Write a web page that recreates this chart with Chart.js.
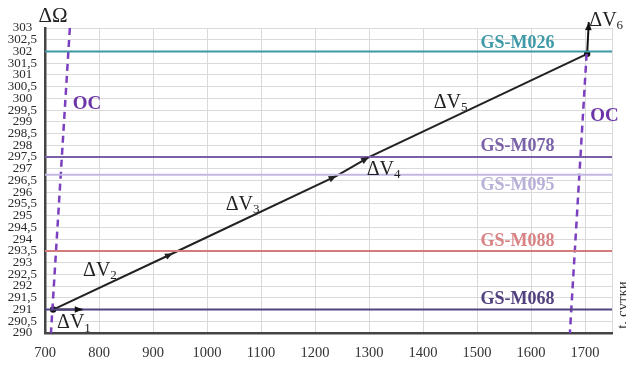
<!DOCTYPE html>
<html>
<head>
<meta charset="utf-8">
<script src="https://cdn.jsdelivr.net/npm/chart.js@4/dist/chart.umd.min.js"></script>
<style>
  html, body { margin: 0; padding: 0; background: #ffffff; }
  canvas { display: block; }
</style>
</head>
<body>
<canvas id="c" width="626" height="366"></canvas>
<script>
// Axis ranges (time in days, ΔΩ in degrees)
const xMin = 700, xMax = 1750;
const xTickValues = [700, 800, 900, 1000, 1100, 1200, 1300, 1400, 1500, 1600, 1700];
const yMin = 290, yMax = 303, yStep = 0.5;

// Transfer trajectory: start point, manoeuvre points, end point
const trackX = [715, 937, 1240, 1300, 1704];
const trackY = [291, 293.4, 296.7, 297.5, 301.9];

// First and last impulses
const dv1X = [715, 770];
const dv1Y = [291, 291];
const dv6X = [1704, 1707];
const dv6Y = [301.9, 303.25];

// Station slots (ΔΩ level of each target)
const stationNames  = ['GS-M026', 'GS-M078', 'GS-M095', 'GS-M088', 'GS-M068'];
const stationLevels = [302, 297.5, 296.75, 293.5, 291];
const stationColors = ['#3c98a6', '#7a5fa8', '#c2b8e2', '#d67b7c', '#51427f'];
const stationText   = ['#3f9aa8', '#7a62a8', '#b9b0d8', '#d98283', '#51417f'];

// Drift boundaries (OC)
const ocLeftX  = [746, 711];
const ocLeftY  = [303, 290];
const ocRightX = [1703, 1672];
const ocRightY = [301.9, 290];

const serif = '"Liberation Serif", "Times New Roman", serif';
const ocColor = '#7b3fc0';

const pts = (xs, ys) => xs.map((v, i) => ({ x: v, y: ys[i] }));

const datasets = [];

// horizontal station lines
stationLevels.forEach((lvl, i) => {
  datasets.push({
    data: pts([xMin, xMax], [lvl, lvl]),
    borderColor: stationColors[i],
    borderWidth: 2,
    pointRadius: 0,
    showLine: true
  });
});

// OC dashed boundaries
[[ocLeftX, ocLeftY], [ocRightX, ocRightY]].forEach(([xs, ys]) => {
  datasets.push({
    data: pts(xs, ys),
    borderColor: ocColor,
    borderWidth: 2.5,
    borderDash: [7, 5],
    pointRadius: 0,
    showLine: true,
    clip: false
  });
});

// trajectory
datasets.push({
  data: pts(trackX, trackY),
  borderColor: '#222222',
  borderWidth: 2,
  pointRadius: trackX.map((_, i) => (i === 0 || i === trackX.length - 1) ? 3.2 : 0),
  pointBackgroundColor: '#111111',
  pointBorderWidth: 0,
  showLine: true,
  arrowHeads: [1, 2, 3]
});

// ΔV1 and ΔV6 impulses
datasets.push({
  data: pts(dv1X, dv1Y),
  borderColor: '#111111', borderWidth: 2, pointRadius: 0, showLine: true,
  arrowHeads: [1], clip: false
});
datasets.push({
  data: pts(dv6X, dv6Y),
  borderColor: '#111111', borderWidth: 2, pointRadius: 0, showLine: true,
  arrowHeads: [1], clip: false
});

// Text marks, placed in data coordinates
const textMarks = [
  { text: 'ΔΩ', x: 714.8, y: 303.5, font: '21px ' + serif, color: '#222' },
  { text: 'OC', x: 777.7, y: 299.74, font: 'bold 19px ' + serif, color: '#6b35a8' },
  { text: 'OC', x: 1735.9, y: 299.23, font: 'bold 19px ' + serif, color: '#6b35a8' },
  { text: 'ΔV', sub: '1', x: 753.6, y: 290.42, font: '20px ' + serif, color: '#222' },
  { text: 'ΔV', sub: '2', x: 801.7, y: 292.66, font: '20px ' + serif, color: '#222' },
  { text: 'ΔV', sub: '3', x: 1066, y: 295.48, font: '20px ' + serif, color: '#222' },
  { text: 'ΔV', sub: '4', x: 1327, y: 296.97, font: '20px ' + serif, color: '#222' },
  { text: 'ΔV', sub: '5', x: 1451, y: 299.82, font: '20px ' + serif, color: '#222' },
  { text: 'ΔV', sub: '6', x: 1708, y: 303.32, font: '20px ' + serif, color: '#222', align: 'left' }
];
const stationLabelX = 1575;
const stationLabelY = [302.34, 297.95, 296.28, 293.9, 291.45];

const arrowPlugin = {
  id: 'arrowHeads',
  afterDatasetsDraw(chart) {
    const ctx = chart.ctx;
    ctx.save();
    chart.data.datasets.forEach((ds, di) => {
      if (!ds.arrowHeads) return;
      const meta = chart.getDatasetMeta(di);
      ds.arrowHeads.forEach(k => {
        const p = meta.data[k], q = meta.data[k - 1];
        const a = Math.atan2(p.y - q.y, p.x - q.x);
        const len = 8, hw = 3.3;
        ctx.fillStyle = ds.borderColor;
        ctx.beginPath();
        ctx.moveTo(p.x, p.y);
        ctx.lineTo(p.x - len * Math.cos(a) + hw * Math.sin(a), p.y - len * Math.sin(a) - hw * Math.cos(a));
        ctx.lineTo(p.x - len * Math.cos(a) - hw * Math.sin(a), p.y - len * Math.sin(a) + hw * Math.cos(a));
        ctx.closePath();
        ctx.fill();
      });
    });
    ctx.restore();
  }
};

const textPlugin = {
  id: 'textMarks',
  afterDatasetsDraw(chart) {
    const { ctx, scales: { x, y }, chartArea } = chart;
    ctx.save();
    ctx.textBaseline = 'middle';
    const draw = (t) => {
      const px = x.getPixelForValue(t.x), py = y.getPixelForValue(t.y);
      ctx.fillStyle = t.color;
      ctx.font = t.font;
      if (t.sub) {
        const mainW = ctx.measureText(t.text).width;
        const subFont = '13px ' + serif;
        ctx.font = subFont;
        const subW = ctx.measureText(t.sub).width;
        const left = t.align === 'left' ? px : px - (mainW + subW) / 2;
        ctx.textAlign = 'left';
        ctx.font = t.font;
        ctx.fillText(t.text, left, py);
        ctx.font = subFont;
        ctx.fillText(t.sub, left + mainW, py + 5);
      } else {
        ctx.textAlign = t.align || 'center';
        ctx.fillText(t.text, px, py);
      }
    };
    textMarks.forEach(draw);
    stationNames.forEach((name, i) => draw({
      text: name, x: stationLabelX, y: stationLabelY[i],
      font: 'bold 18px ' + serif, color: stationText[i]
    }));
    // time axis title, turned along the right edge
    ctx.translate(chartArea.right + 4, chartArea.bottom - 28);
    ctx.rotate(-Math.PI / 2);
    ctx.font = '15px ' + serif;
    ctx.fillStyle = '#333';
    ctx.textAlign = 'center';
    ctx.textBaseline = 'top';
    ctx.fillText('t, сутки', 0, 0);
    ctx.restore();
  }
};

new Chart(document.getElementById('c'), {
  type: 'scatter',
  data: { datasets },
  plugins: [arrowPlugin, textPlugin],
  options: {
    responsive: false,
    animation: false,
    events: [],
    layout: { padding: { top: 28, right: 14, left: 0, bottom: 0 } },
    plugins: { legend: { display: false }, tooltip: { enabled: false } },
    scales: {
      x: {
        type: 'linear',
        min: xMin, max: xMax,
        afterBuildTicks: s => {
          s.ticks = xTickValues.concat([xMax]).map(v => ({ value: v }));
        },
        ticks: {
          autoSkip: false,
          maxRotation: 0,
          padding: 11,
          color: '#333',
          font: { family: serif, size: 14.5 },
          callback: v => xTickValues.includes(v) ? String(v) : ''
        },
        grid: { color: '#dadada', lineWidth: 1, drawTicks: false },
        border: { color: '#444', width: 2.5 },
        afterFit: s => { s.height = 33; }
      },
      y: {
        type: 'linear',
        min: yMin, max: yMax,
        ticks: {
          stepSize: yStep,
          autoSkip: false,
          padding: 8,
          crossAlign: 'center',
          color: '#2a2a2a',
          font: { family: serif, size: 13 },
          callback: v => String(v).replace('.', ',')
        },
        grid: { color: '#dadada', lineWidth: 1, drawTicks: false },
        border: { color: '#444', width: 2.5 },
        afterFit: s => { s.width = 45; }
      }
    }
  }
});
</script>
</body>
</html>
